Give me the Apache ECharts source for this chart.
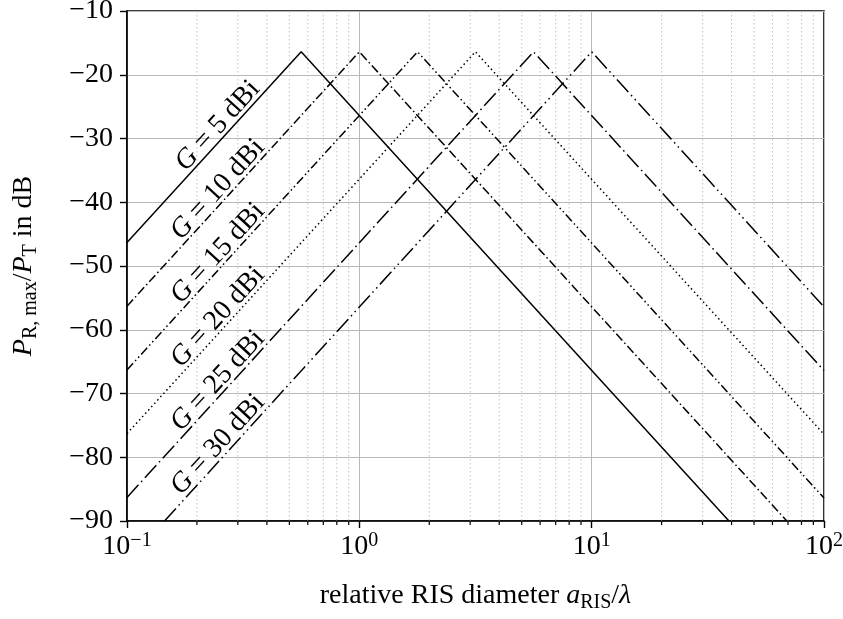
<!DOCTYPE html>
<html>
<head>
<meta charset="utf-8">
<script src="https://cdn.jsdelivr.net/npm/echarts@6/dist/echarts.min.js"></script>
<style>
  html, body { margin: 0; padding: 0; background: #ffffff; }
  #chart { width: 843px; height: 619px; }
</style>
</head>
<body>
<div id="chart"></div>
<script>
// Received power vs. relative RIS diameter, one curve per antenna gain G.
// Each curve: rising branch, peak, falling branch ([a_RIS/lambda, dB]).
const gainLabels = ['5', '10', '15', '20', '25', '30'];
const curveG5  = [[0.1, -46.3], [0.562, -16.4], [39.0, -90]];
const curveG10 = [[0.1, -56.3], [1.0, -16.4], [69.2, -90]];
const curveG15 = [[0.1, -66.3], [1.78, -16.4], [100, -86.4]];
const curveG20 = [[0.1, -76.3], [3.16, -16.4], [100, -76.4]];
const curveG25 = [[0.1, -86.3], [5.62, -16.4], [100, -66.4]];
const curveG30 = [[0.145, -90], [10.0, -16.4], [100, -56.4]];
const curves = [curveG5, curveG10, curveG15, curveG20, curveG25, curveG30];

// Axis ranges and ticks
const xMin = 0.1, xMax = 100;
const yMin = -90, yMax = -10, yStep = 10;
const minorXTicks = [0.2, 0.3, 0.4, 0.5, 0.6, 0.7, 0.8, 0.9,
                     2, 3, 4, 5, 6, 7, 8, 9,
                     20, 30, 40, 50, 60, 70, 80, 90];

const FONT = 'Liberation Serif';
const FS = 28;      // main text size
const FS_SUB = 20;  // sub/superscript size
const dashStyles = [
  'solid',
  [9, 3, 1.5, 3],
  [9, 3, 1.5, 3, 1.5, 3],
  [1.5, 3],
  [17, 4, 1.5, 4],
  [17, 4, 1.5, 4, 1.5, 4]
];
// label anchor (centre of rotated text) per curve
const labelX = 0.246;
const labelY0 = -28.0;
const labelAngle = 47.7;

const textRich = {
  n: { fontFamily: FONT, fontSize: FS, color: '#000' },
  i: { fontFamily: FONT, fontSize: FS, fontStyle: 'italic', color: '#000' },
  e: { fontFamily: FONT, fontSize: FS, color: '#000', padding: [0, 7, 0, 7] }
};

const nameRich = {
  n: { fontFamily: FONT, fontSize: FS, color: '#000', lineHeight: 34 },
  i: { fontFamily: FONT, fontSize: FS, fontStyle: 'italic', color: '#000', lineHeight: 34 },
  s: { fontFamily: FONT, fontSize: FS_SUB, color: '#000', verticalAlign: 'bottom', lineHeight: 22 }
};

const chart = echarts.init(document.getElementById('chart'), null, { renderer: 'canvas' });

const lineSeries = curves.map((pts, k) => ({
  type: 'line',
  data: pts,
  symbol: 'none',
  clip: true,
  z: 3,
  lineStyle: { color: '#000', width: 1.5, type: dashStyles[k], cap: 'butt' },
  markPoint: {
    symbol: 'circle',
    symbolSize: 0,
    silent: true,
    data: [{
      coord: [labelX, labelY0 - 10 * k],
      label: {
        show: true,
        position: 'inside',
        rotate: labelAngle,
        formatter: '{i|G}{e|=}{n|' + gainLabels[k] + ' dBi}',
        rich: textRich,
        color: '#000'
      }
    }]
  }
}));

// dotted minor grid lines plus short ticks under the bottom axis
const minorSeries = {
  type: 'custom',
  coordinateSystem: 'cartesian2d',
  clip: false,
  silent: true,
  z: 1,
  data: minorXTicks.map(v => [v, yMin]),
  encode: { x: 0, y: 1 },
  renderItem: function (params, api) {
    const v = api.value(0);
    const top = api.coord([v, yMax]);
    const bot = api.coord([v, yMin]);
    return {
      type: 'group',
      children: [
        {
          type: 'line',
          shape: { x1: top[0], y1: top[1], x2: bot[0], y2: bot[1] },
          style: { stroke: '#c4c4c4', lineWidth: 1, lineDash: [1.5, 2.5] }
        },
        {
          type: 'line',
          shape: { x1: bot[0], y1: bot[1], x2: bot[0], y2: bot[1] + 4 },
          style: { stroke: '#000', lineWidth: 1.2 }
        }
      ]
    };
  }
};

function expLabel(v) {
  const e = Math.round(Math.log10(v));
  const s = e < 0 ? '\u2212' + (-e) : String(e);
  return '{b|10}{s|' + s + '}';
}

const option = {
  animation: false,
  backgroundColor: '#ffffff',
  grid: {
    left: 127, right: 19, top: 11, bottom: 98,
    outerBoundsMode: 'none',
    containLabel: false,
    show: true, borderColor: '#000', borderWidth: 1.6,
    backgroundColor: 'transparent'
  },
  xAxis: {
    type: 'log',
    logBase: 10,
    min: xMin,
    max: xMax,
    name: '{n|relative RIS diameter }{i|a}{s|RIS}{n|/}{i|λ}',
    nameLocation: 'middle',
    nameGap: 58,
    nameTextStyle: { rich: nameRich },
    axisLine: { show: true, lineStyle: { color: '#000', width: 1.6 } },
    axisTick: { show: true, inside: false, length: 7, lineStyle: { color: '#000', width: 1.4 } },
    minorTick: { show: false },
    splitLine: { show: true, lineStyle: { color: '#b8b8b8', width: 1 } },
    axisLabel: {
      margin: 10,
      hideOverlap: false,
      formatter: expLabel,
      rich: {
        b: { fontFamily: FONT, fontSize: FS, color: '#000', lineHeight: 32 },
        s: { fontFamily: FONT, fontSize: FS_SUB, color: '#000', verticalAlign: 'top', lineHeight: 18 }
      }
    }
  },
  yAxis: {
    type: 'value',
    min: yMin,
    max: yMax,
    interval: yStep,
    name: '{i|P}{s|R, max}{n|/}{i|P}{s|T}{n| in dB}',
    nameLocation: 'middle',
    nameRotate: 90,
    nameGap: 86,
    nameTextStyle: { rich: nameRich },
    axisLine: { show: true, lineStyle: { color: '#000', width: 1.6 } },
    axisTick: { show: true, inside: false, length: 7, lineStyle: { color: '#000', width: 1.4 } },
    splitLine: { show: true, lineStyle: { color: '#b8b8b8', width: 1 } },
    axisLabel: {
      margin: 14,
      hideOverlap: false,
      fontFamily: FONT,
      fontSize: FS,
      color: '#000',
      formatter: v => String(v).replace('-', '\u2212')
    }
  },
  series: [minorSeries].concat(lineSeries)
};

chart.setOption(option);
</script>
</body>
</html>
